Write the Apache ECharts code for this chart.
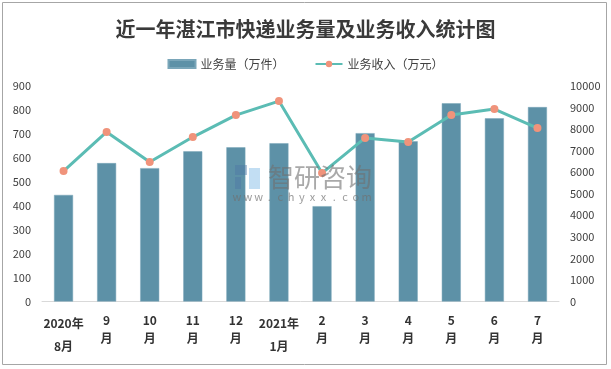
<!DOCTYPE html>
<html>
<head>
<meta charset="utf-8">
<script src="https://cdn.jsdelivr.net/npm/echarts@6/dist/echarts.min.js"></script>
<style>html,body{margin:0;padding:0;background:#fff}#c{width:611px;height:369px}</style>
</head>
<body>
<div id="c"></div>
<script>
var categories = ['2020年8月','9月','10月','11月','12月','2021年1月','2月','3月','4月','5月','6月','7月'];
var volume = [445, 578, 557, 627, 644, 661, 398, 703, 669, 828, 765, 812];
var revenue = [6050, 7870, 6470, 7630, 8650, 9300, 5960, 7590, 7400, 8650, 8930, 8050];
var leftTicks = {min: 0, max: 900, interval: 100};
var rightTicks = {min: 0, max: 10000, interval: 1000};
var seriesNames = ['业务量（万件）', '业务收入（万元）'];
var titleText = '近一年湛江市快递业务量及业务收入统计图';

var FONT = '"Noto Sans CJK SC", "Liberation Sans", sans-serif';
var chart = echarts.init(document.getElementById('c'), null, {renderer: 'canvas'});

var wmChars = 'www.chyxx.com'.split('');
var wmGroup = wmChars.map(function (ch, i) {
  return {type: 'text', z: 100, x: 237 + i * 10.8, y: 197, style: {text: ch, font: '11px ' + FONT, fill: '#707070', opacity: 0.7, textAlign: 'center', textVerticalAlign: 'middle'}};
});

chart.setOption({
  backgroundColor: '#fff',
  animation: false,
  title: {
    text: titleText,
    left: 'center',
    top: 14,
    textStyle: {fontFamily: FONT, fontSize: 20, fontWeight: 'bold', color: '#3a3a3a'}
  },
  legend: {
    data: [{name: seriesNames[0], icon: 'rect'}, {name: seriesNames[1]}],
    left: 'center',
    top: 53,
    itemGap: 30,
    itemWidth: 27,
    itemHeight: 8,
    textStyle: {fontFamily: FONT, fontSize: 12, color: '#404040'}
  },
  grid: {left: 42, right: 52, top: 86, bottom: 67.5, containLabel: false},
  xAxis: {
    type: 'category',
    data: categories,
    axisTick: {show: false},
    axisLine: {lineStyle: {color: '#d9d9d9', width: 1}},
    axisLabel: {
      interval: 0,
      margin: 10,
      formatter: function (v) {
        var i = v.indexOf('年');
        if (i >= 0) {
          return '{y|' + v.slice(0, i + 1) + '}\n{y|' + v.slice(i + 1) + '}';
        }
        return '{m|' + v.slice(0, v.length - 1) + '}\n{m|' + v.slice(-1) + '}';
      },
      rich: {
        y: {fontFamily: FONT, fontSize: 12, fontWeight: 'bold', color: '#333', lineHeight: 23},
        m: {fontFamily: FONT, fontSize: 12, fontWeight: 'bold', color: '#333', lineHeight: 18}
      }
    }
  },
  yAxis: [
    {
      type: 'value', min: leftTicks.min, max: leftTicks.max, interval: leftTicks.interval,
      axisLine: {show: false}, axisTick: {show: false}, splitLine: {show: false},
      axisLabel: {fontFamily: FONT, fontSize: 11, color: '#404040', margin: 11, formatter: function (v) { return String(v); }}
    },
    {
      type: 'value', min: rightTicks.min, max: rightTicks.max, interval: rightTicks.interval,
      axisLine: {show: false}, axisTick: {show: false}, splitLine: {show: false},
      axisLabel: {fontFamily: FONT, fontSize: 11, color: '#404040', margin: 11, formatter: function (v) { return String(v); }}
    }
  ],
  series: [
    {
      name: seriesNames[0],
      type: 'bar',
      data: volume,
      barWidth: 19,
      itemStyle: {color: '#5d91a7', borderColor: '#7aa6b9', borderWidth: 0.5}
    },
    {
      name: seriesNames[1],
      type: 'line',
      yAxisIndex: 1,
      data: revenue,
      symbol: 'circle',
      symbolSize: 8,
      lineStyle: {color: '#5bbcb4', width: 3},
      itemStyle: {color: '#f0937b', borderWidth: 0}
    }
  ],
  graphic: [
    {type: 'rect', z: 100, shape: {x: 2.5, y: 2.5, width: 604, height: 362}, style: {fill: 'none', stroke: '#a6a6a6', lineWidth: 1}},
    {type: 'rect', z: 100, shape: {x: 235, y: 165, width: 12, height: 10}, style: {fill: '#4d77a6', opacity: 0.45}},
    {type: 'rect', z: 100, shape: {x: 235, y: 177, width: 6, height: 12}, style: {fill: '#4d77a6', opacity: 0.45}},
    {type: 'rect', z: 100, shape: {x: 249, y: 168, width: 11, height: 21}, style: {fill: '#8fc3ea', opacity: 0.55}},
    {type: 'text', z: 100, x: 268, y: 177, style: {text: '智研咨询', font: '26px ' + FONT, fill: '#707070', opacity: 0.6, textVerticalAlign: 'middle'}}
  ].concat(wmGroup)
});
</script>
</body>
</html>
